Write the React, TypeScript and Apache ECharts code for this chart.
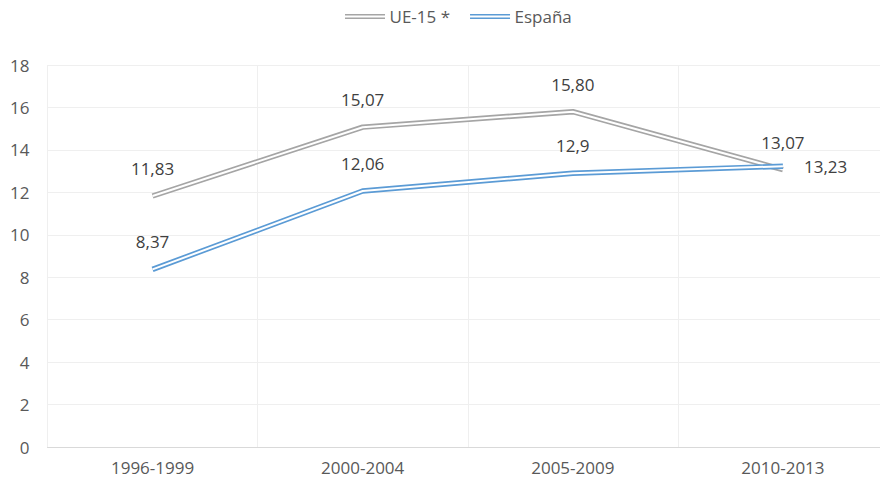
import React, { useEffect, useRef } from "react";
import * as echarts from "echarts";

const periods = ["1996-1999", "2000-2004", "2005-2009", "2010-2013"];
const ue15 = [11.83, 15.07, 15.8, 13.07];
const espana = [8.37, 12.06, 12.9, 13.23];
const ue15Labels = ["11,83", "15,07", "15,80", "13,07"];
const espanaLabels = ["8,37", "12,06", "12,9", "13,23"];

const FONT = "'Open Sans', 'DejaVu Sans', sans-serif";
const GRAY = "#a5a5a5";
const BLUE = "#5b9bd5";
const DOUBLE_ICON = "path://M0,0H40V1.6H0Z M0,3.4H40V5H0Z";

function colouredSeries(name: string, values: number[], labels: string[], color: string, lastPos: string) {
  return {
    name,
    type: "line",
    data: values.map((v, i) => ({
      value: v,
      label: {
        formatter: labels[i],
        position: i === values.length - 1 ? lastPos : "top",
        distance: i === values.length - 1 && lastPos === "right" ? 21 : 19,
      },
    })),
    symbol: "circle",
    symbolSize: 0,
    lineStyle: { color, width: 5.4 },
    itemStyle: { color },
    label: { show: true, color: "#404040", fontSize: 17, fontFamily: FONT },
    emphasis: { disabled: true },
  };
}

function innerSeries(values: number[]) {
  return {
    name: "_inner",
    type: "line",
    data: values,
    symbol: "none",
    lineStyle: { color: "#ffffff", width: 2 },
    emphasis: { disabled: true },
    silent: true,
  };
}

export default function App() {
  const ref = useRef<HTMLDivElement>(null);

  useEffect(() => {
    if (!ref.current) return;
    const chart = echarts.init(ref.current, undefined, { renderer: "svg" });
    chart.setOption({
      animation: false,
      backgroundColor: "#ffffff",
      legend: {
        left: 340,
        top: 3,
        itemWidth: 41,
        itemHeight: 5,
        itemGap: 20,
        data: [
          { name: "UE-15 *", icon: DOUBLE_ICON },
          { name: "España", icon: DOUBLE_ICON },
        ],
        textStyle: { color: "#595959", fontSize: 17, fontFamily: FONT, padding: [0, 0, 0, -1] },
      },
      grid: { left: 47.5, right: 12, top: 65, bottom: 35, containLabel: false },
      xAxis: {
        type: "category",
        data: periods,
        boundaryGap: true,
        axisLine: { show: true, lineStyle: { color: "#d9d9d9", width: 1 } },
        axisTick: { show: false },
        axisLabel: { color: "#595959", fontSize: 17, fontFamily: FONT, margin: 12 },
        splitLine: { show: true, lineStyle: { color: "#efefef", width: 1 } },
      },
      yAxis: {
        type: "value",
        min: 0,
        max: 18,
        interval: 2,
        axisLine: { show: false },
        axisTick: { show: false },
        axisLabel: { color: "#595959", fontSize: 17, fontFamily: FONT, margin: 18 },
        splitLine: { show: true, lineStyle: { color: "#efefef", width: 1 } },
      },
      series: [
        colouredSeries("UE-15 *", ue15, ue15Labels, GRAY, "top"),
        innerSeries(ue15),
        colouredSeries("España", espana, espanaLabels, BLUE, "right"),
        innerSeries(espana),
      ],
    });
    return () => chart.dispose();
  }, []);

  return (
    <div style={{ position: "absolute", left: 0, top: 0, width: 880, height: 482, overflow: "hidden", background: "#fff" }}>
      <div ref={ref} style={{ width: 900, height: 482 }} />
    </div>
  );
}
